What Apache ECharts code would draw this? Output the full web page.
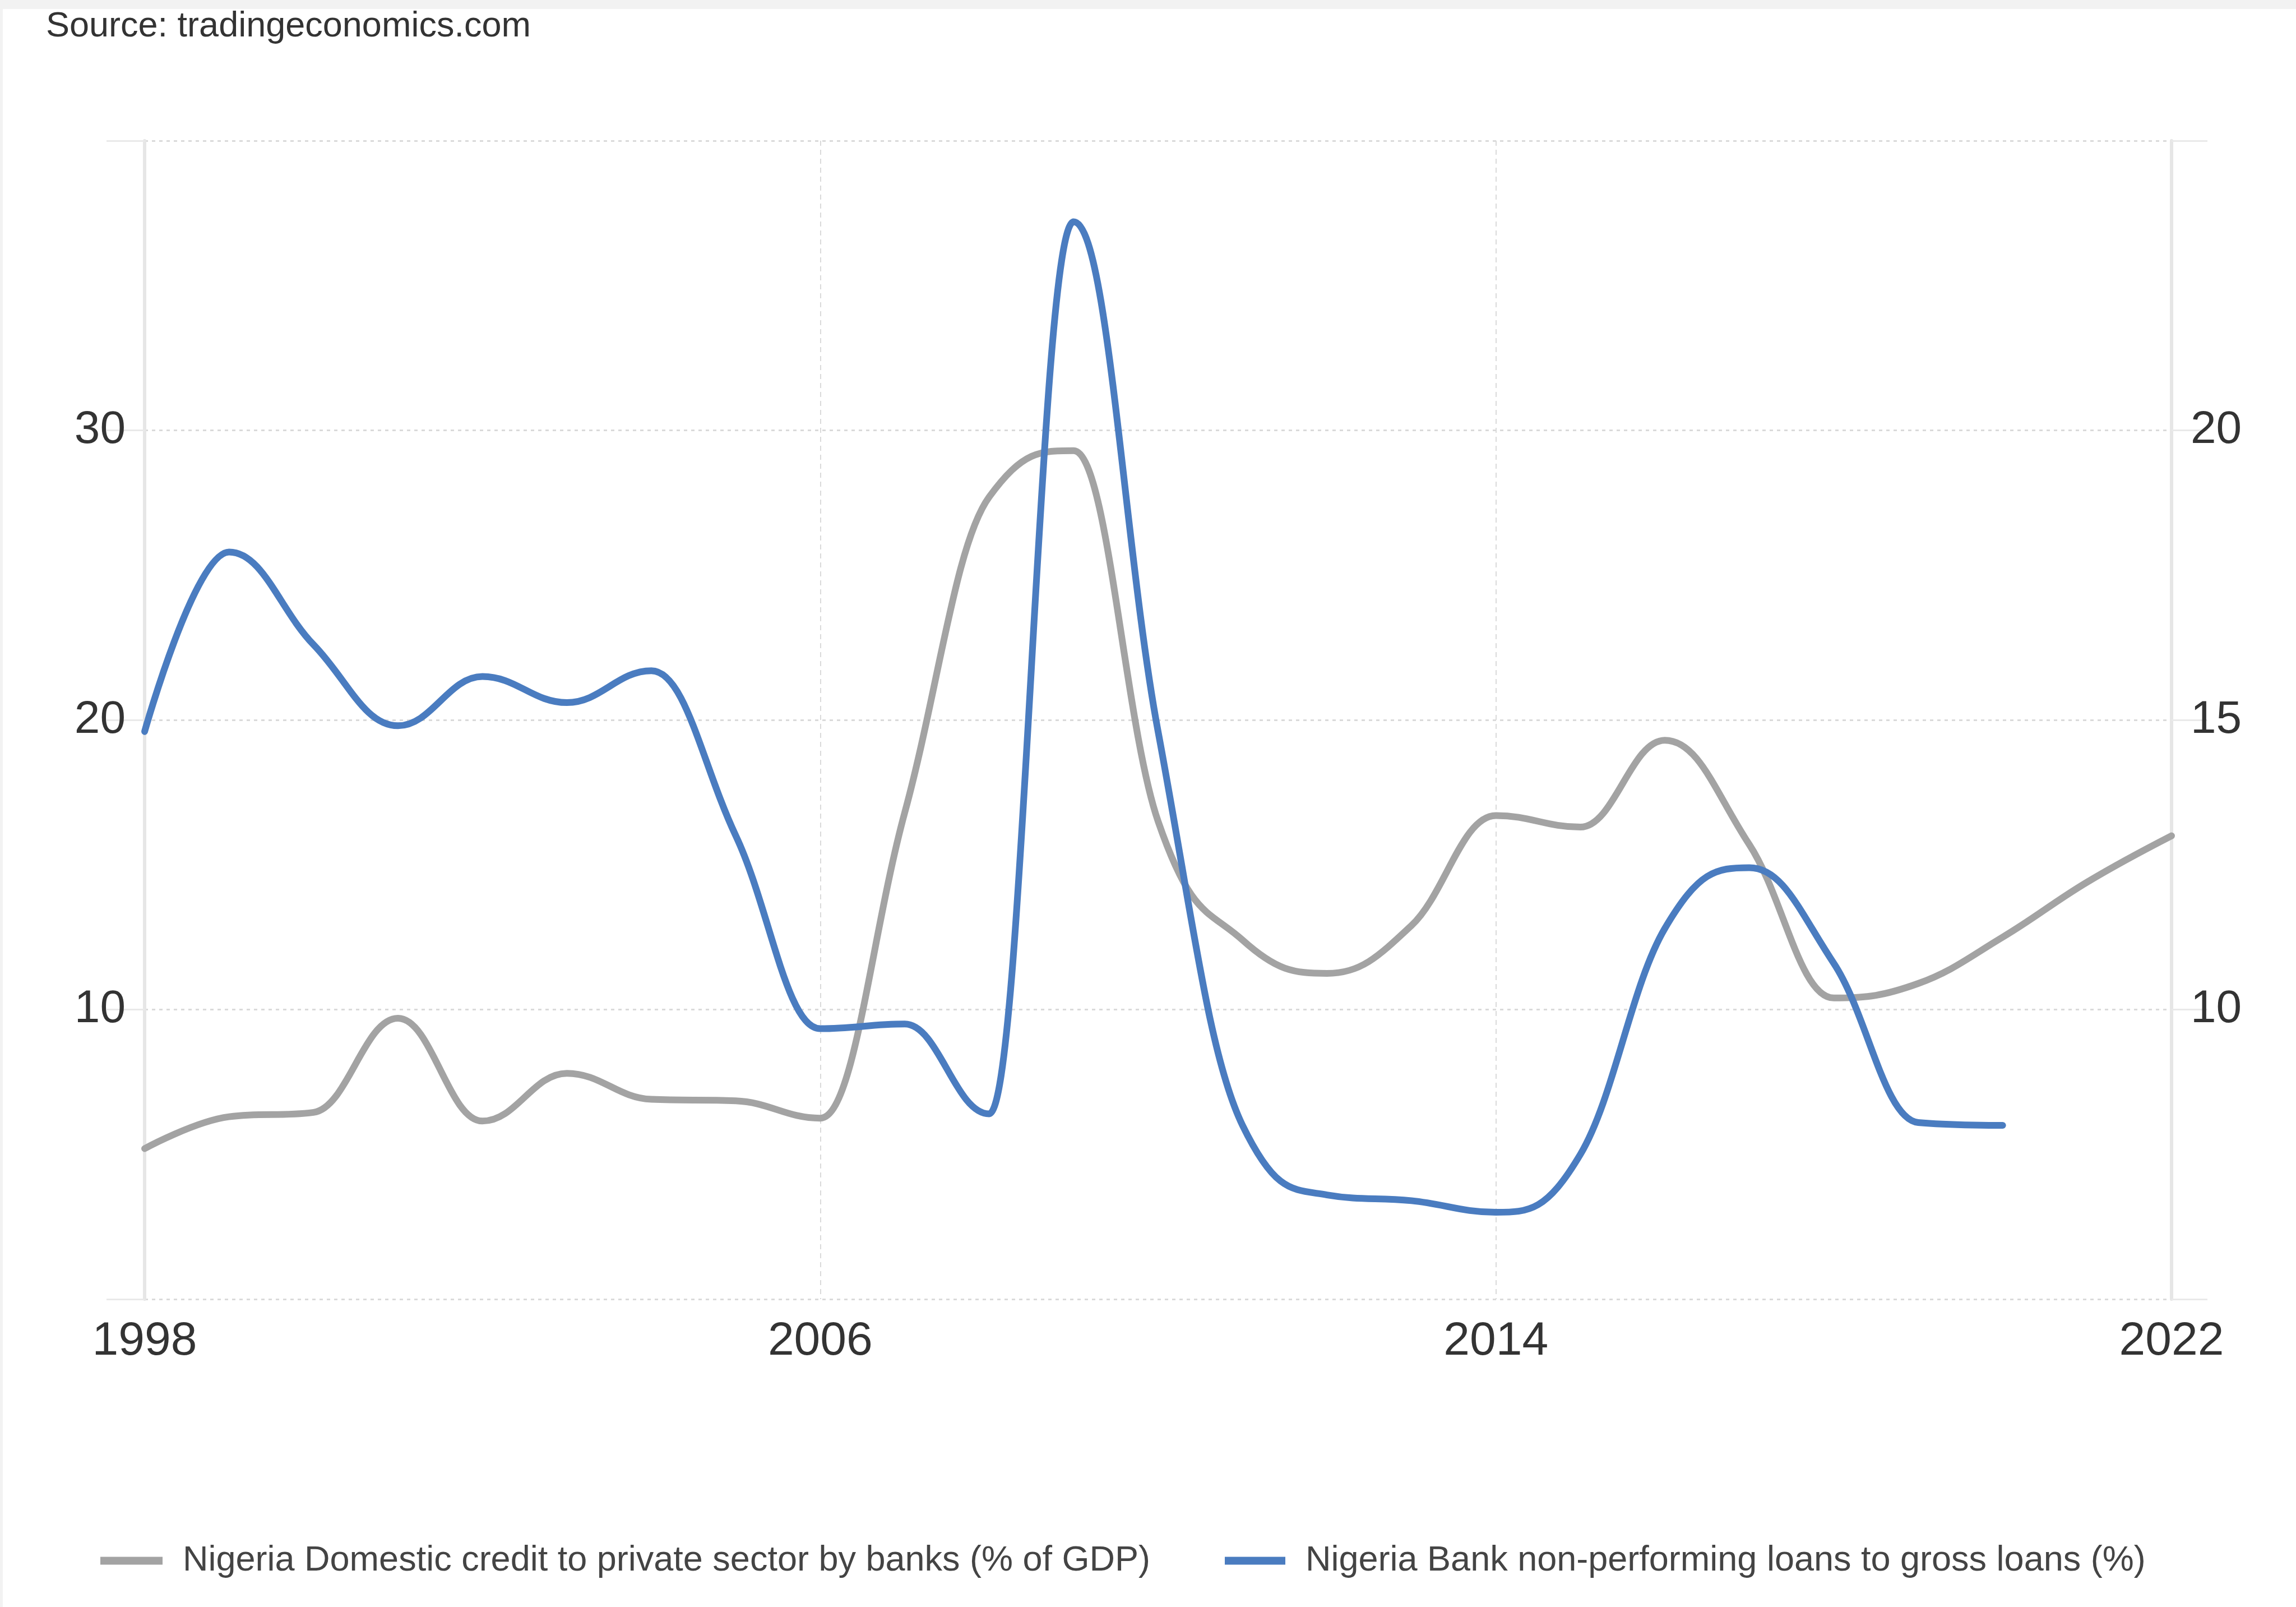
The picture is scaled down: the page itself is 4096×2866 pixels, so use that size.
<!DOCTYPE html>
<html>
<head>
<meta charset="utf-8">
<title>Nigeria: bank credit and non-performing loans</title>
<script src="https://cdn.jsdelivr.net/npm/echarts@6/dist/echarts.min.js"></script>
<style>
  html, body { margin: 0; padding: 0; background: #ffffff; }
  #chart { width: 4096px; height: 2866px; }
</style>
</head>
<body>
<div id="chart"></div>
<script>
// ---- data ---------------------------------------------------------------
const years = [1998, 1999, 2000, 2001, 2002, 2003, 2004, 2005, 2006, 2007, 2008, 2009,
               2010, 2011, 2012, 2013, 2014, 2015, 2016, 2017, 2018, 2019, 2020, 2021, 2022];

// Domestic credit to private sector by banks (% of GDP), left axis
const creditToPrivateSector = [5.2, 6.3, 6.45, 9.7, 6.15, 7.8, 6.9, 6.85, 6.25, 16.8, 27.7, 29.3,
                               16.5, 12.4, 11.25, 12.9, 16.7, 16.3, 19.3, 15.7, 10.4, 10.9, 12.5, 14.4, 16.0];

// Bank non-performing loans to gross loans (%), right axis (series ends in 2020)
const nplYears = [1998, 1999, 2000, 2001, 2002, 2003, 2004, 2005, 2006, 2007, 2008, 2009,
                  2010, 2011, 2012, 2013, 2014, 2015, 2016, 2017, 2018, 2019, 2020];
const nonPerformingLoans = [14.8, 17.9, 16.3, 14.9, 15.75, 15.3, 15.85, 13.0, 9.67, 9.75, 8.2, 23.6,
                            14.8, 8.0, 6.8, 6.7, 6.5, 7.5, 11.4, 12.45, 10.8, 8.05, 8.0];

const seriesNames = [
  'Nigeria Domestic credit to private sector by banks (% of GDP)',
  'Nigeria Bank non-performing loans to gross loans (%)'
];

const xTickLabels = [1998, 2006, 2014, 2022];
const leftTickLabels = [10, 20, 30];
const rightTickLabels = [10, 15, 20];
const sourceNote = 'Source: tradingeconomics.com';

// ---- styling --------------------------------------------------------------
const FONT = '"Liberation Sans", Arial, Helvetica, sans-serif';
const GREY = '#a3a3a3';
const BLUE = '#4a7cc0';
const AXIS_LINE = '#e6e6e6';
const GRID_LINE = '#dadada';
const LINE_WIDTH = 12;

// Cardinal-style spline with horizontal tangents at local extremes
function splinePath(pts) {
  const sm = 1.5, den = sm + 1, n = pts.length;
  const ctrl = [];
  for (let i = 0; i < n; i++) {
    if (i === 0 || i === n - 1) { ctrl.push(null); continue; }
    const [x, y] = pts[i];
    const [lx, ly] = pts[i - 1];
    const [nx, ny] = pts[i + 1];
    let lcx = (sm * x + lx) / den, lcy = (sm * y + ly) / den;
    let rcx = (sm * x + nx) / den, rcy = (sm * y + ny) / den;
    let corr = 0;
    if (rcx !== lcx) corr = ((rcy - lcy) * (rcx - x)) / (rcx - lcx) + y - rcy;
    lcy += corr; rcy += corr;
    if (lcy > ly && lcy > y) { lcy = Math.max(ly, y); rcy = 2 * y - lcy; }
    else if (lcy < ly && lcy < y) { lcy = Math.min(ly, y); rcy = 2 * y - lcy; }
    if (rcy > ny && rcy > y) { rcy = Math.max(ny, y); lcy = 2 * y - rcy; }
    else if (rcy < ny && rcy < y) { rcy = Math.min(ny, y); lcy = 2 * y - rcy; }
    ctrl.push([[lcx, lcy], [rcx, rcy]]);
  }
  let d = 'M' + pts[0][0] + ',' + pts[0][1];
  for (let i = 1; i < n; i++) {
    const a = ctrl[i - 1] ? ctrl[i - 1][1] : pts[i - 1];
    const b = ctrl[i] ? ctrl[i][0] : pts[i];
    d += 'C' + a[0] + ',' + a[1] + ',' + b[0] + ',' + b[1] + ',' + pts[i][0] + ',' + pts[i][1];
  }
  return d;
}

function splineSeries(name, xs, vs, yAxisIndex, color) {
  return {
    type: 'custom',
    name: name,
    coordinateSystem: 'cartesian2d',
    yAxisIndex: yAxisIndex,
    data: xs.map((x, i) => [x, vs[i]]),
    encode: { x: 0, y: 1 },
    itemStyle: { color: color },
    silent: true,
    renderItem: function (params, api) {
      if (params.dataIndex !== 0) return null;
      const pts = xs.map((x, i) => api.coord([x, vs[i]]));
      return {
        type: 'path',
        shape: { pathData: splinePath(pts) },
        style: { fill: 'none', stroke: color, lineWidth: LINE_WIDTH, lineCap: 'round', lineJoin: 'round' }
      };
    }
  };
}

const legendText = { fontSize: 63, lineHeight: 63, color: '#444444', fontFamily: FONT, padding: [0, 0, 0, 31] };

const option = {
  backgroundColor: '#ffffff',
  animation: false,
  textStyle: { fontFamily: FONT },
  graphic: [
    { type: 'rect', silent: true, z: -10, shape: { x: 0, y: 0, width: 4096, height: 16 }, style: { fill: '#f2f2f2' } },
    { type: 'rect', silent: true, z: -10, shape: { x: 0, y: 0, width: 5, height: 2866 }, style: { fill: '#f2f2f2' } },
    {
      type: 'text', x: 82, y: 48, silent: true,
      style: { text: sourceNote, fontSize: 63, fontFamily: FONT, fill: '#333333', align: 'left', verticalAlign: 'middle' }
    }
  ],
  grid: { left: 258, right: 222, top: 251, bottom: 549, containLabel: false, outerBoundsMode: 'none' },
  xAxis: {
    type: 'value', min: 1998, max: 2022, interval: 8,
    axisLine: { show: false },
    axisTick: { show: false },
    axisLabel: {
      fontSize: 84, lineHeight: 84, color: '#333333', fontFamily: FONT, margin: 34,
      showMinLabel: true, showMaxLabel: true,
      formatter: v => (xTickLabels.indexOf(v) >= 0 ? String(v) : '')
    },
    splitLine: { show: true, lineStyle: { color: GRID_LINE, width: 2, type: [9, 7] } }
  },
  yAxis: [
    {
      type: 'value', position: 'left', min: 0, max: 40, interval: 10,
      axisLine: { show: true, lineStyle: { color: AXIS_LINE, width: 6 } },
      axisTick: { show: true, length: 68, lineStyle: { color: '#e9e9e9', width: 3 } },
      axisLabel: {
        fontSize: 82, color: '#333333', fontFamily: FONT, margin: 34,
        formatter: v => (leftTickLabels.indexOf(v) >= 0 ? String(v) : '')
      },
      splitLine: { show: true, lineStyle: { color: GRID_LINE, width: 3, type: [6, 7] } }
    },
    {
      type: 'value', position: 'right', min: 5, max: 25, interval: 5,
      axisLine: { show: true, lineStyle: { color: AXIS_LINE, width: 6 } },
      axisTick: { show: true, length: 64, lineStyle: { color: '#e9e9e9', width: 3 } },
      axisLabel: {
        fontSize: 82, color: '#333333', fontFamily: FONT, margin: 34,
        formatter: v => (rightTickLabels.indexOf(v) >= 0 ? String(v) : '')
      },
      splitLine: { show: false }
    }
  ],
  legend: [
    {
      left: 179, top: 2752, padding: 0, itemWidth: 111, itemHeight: 14, selectedMode: false,
      data: [{ name: seriesNames[0], icon: 'rect', itemStyle: { color: GREY } }],
      textStyle: legendText
    },
    {
      left: 2185, top: 2752, padding: 0, itemWidth: 108, itemHeight: 14, selectedMode: false,
      data: [{ name: seriesNames[1], icon: 'rect', itemStyle: { color: BLUE } }],
      textStyle: legendText
    }
  ],
  series: [
    splineSeries(seriesNames[0], years, creditToPrivateSector, 0, GREY),
    splineSeries(seriesNames[1], nplYears, nonPerformingLoans, 1, BLUE)
  ]
};

const chart = echarts.init(document.getElementById('chart'), null, { renderer: 'canvas', width: 4096, height: 2866 });
chart.setOption(option);
</script>
</body>
</html>
